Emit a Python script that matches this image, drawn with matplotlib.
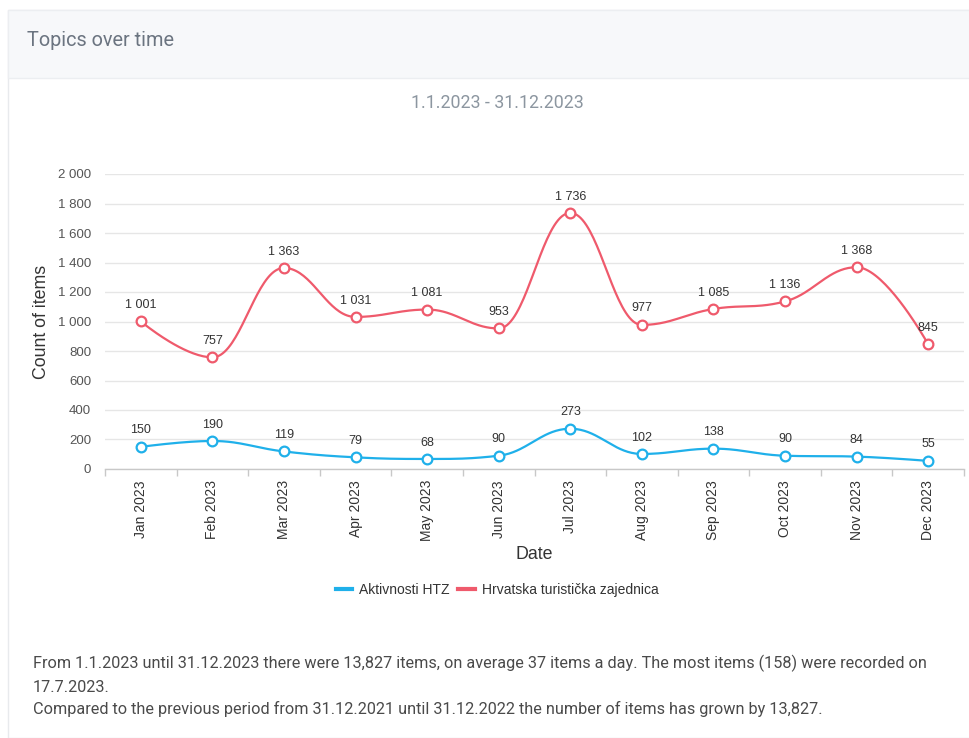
import numpy as np
import matplotlib.pyplot as plt
from matplotlib.patches import Rectangle
from matplotlib.lines import Line2D
from matplotlib.ticker import FuncFormatter, FixedLocator

# -----------------------------
# DATA
# -----------------------------
months = ["Jan 2023", "Feb 2023", "Mar 2023", "Apr 2023", "May 2023", "Jun 2023",
          "Jul 2023", "Aug 2023", "Sep 2023", "Oct 2023", "Nov 2023", "Dec 2023"]
aktivnosti = [150, 190, 119, 79, 68, 90, 273, 102, 138, 90, 84, 55]
hrvatska = [1001, 757, 1363, 1031, 1081, 953, 1736, 977, 1085, 1136, 1368, 845]
series_names = ["Aktivnosti HTZ", "Hrvatska turistička zajednica"]

BLUE = "#1fb0ea"
RED = "#ef5a6c"
TXT = "#333333"

plt.rcParams["font.family"] = ["Liberation Sans", "DejaVu Sans"]


def fmt_num(v):
    return f"{int(v):,}".replace(",", " ")


def spline(xs, ys, n=40):
    # highcharts-like spline (smoothing 1.5)
    xs = np.asarray(xs, float)
    ys = np.asarray(ys, float)
    k = len(xs)
    lcx, lcy = xs.copy(), ys.copy()
    rcx, rcy = xs.copy(), ys.copy()
    s = 1.5
    d = s + 1
    for i in range(1, k - 1):
        px, py = xs[i], ys[i]
        lx, ly = xs[i - 1], ys[i - 1]
        nx, ny = xs[i + 1], ys[i + 1]
        lcx_, lcy_ = (s * px + lx) / d, (s * py + ly) / d
        rcx_, rcy_ = (s * px + nx) / d, (s * py + ny) / d
        corr = (rcy_ - lcy_) * (rcx_ - px) / (rcx_ - lcx_) + py - rcy_
        lcy_ += corr
        rcy_ += corr
        if lcy_ > ly and lcy_ > py:
            lcy_ = max(ly, py)
            rcy_ = 2 * py - lcy_
        elif lcy_ < ly and lcy_ < py:
            lcy_ = min(ly, py)
            rcy_ = 2 * py - lcy_
        if rcy_ > ny and rcy_ > py:
            rcy_ = max(ny, py)
            lcy_ = 2 * py - rcy_
        elif rcy_ < ny and rcy_ < py:
            rcy_ = min(ny, py)
            lcy_ = 2 * py - rcy_
        lcx[i], lcy[i], rcx[i], rcy[i] = lcx_, lcy_, rcx_, rcy_
    t = np.linspace(0, 1, n)[:, None]
    out_x, out_y = [], []
    for i in range(k - 1):
        P = np.array([[xs[i], ys[i]], [rcx[i], rcy[i]], [lcx[i + 1], lcy[i + 1]], [xs[i + 1], ys[i + 1]]])
        B = ((1 - t) ** 3) * P[0] + 3 * ((1 - t) ** 2) * t * P[1] + 3 * (1 - t) * t ** 2 * P[2] + t ** 3 * P[3]
        out_x.extend(B[:, 0])
        out_y.extend(B[:, 1])
    return np.array(out_x), np.array(out_y)


fig = plt.figure(figsize=(9.69, 7.38), dpi=100)
W, H = 969, 738

# card background / header
fig.patches.append(Rectangle((8 / W, 0), 1, 1 - 10 / H, transform=fig.transFigure,
                             facecolor="white", edgecolor="#e8eaed", linewidth=1, zorder=-2))
fig.patches.append(Rectangle((8 / W, 1 - 78 / H), 1, 68 / H, transform=fig.transFigure,
                             facecolor="#f7f8fa", edgecolor="#eceef1", linewidth=1, zorder=-1))
fig.text(27 / W, 1 - 40 / H, "Topics over time", fontsize=14.3, color="#6b7480",
         va="center", ha="left", family=["Roboto", "DejaVu Sans"])
fig.text(497 / W, 1 - 103 / H, "1.1.2023 - 31.12.2023", fontsize=12.8, color="#8c96a0",
         va="center", ha="center", family=["Roboto", "DejaVu Sans"])

ax = fig.add_axes([105 / W, 1 - 469 / H, 859 / W, 295 / H])
x = np.arange(len(months))

for vals, col, name in [(aktivnosti, BLUE, series_names[0]), (hrvatska, RED, series_names[1])]:
    sx, sy = spline(x, vals)
    ax.plot(sx, sy, color=col, linewidth=1.6, zorder=3, label=name, clip_on=False)
    ax.plot(x, vals, linestyle="none", marker="o", markersize=7, markerfacecolor="white",
            markeredgecolor=col, markeredgewidth=1.6, zorder=4, clip_on=False)
    for xi, v in zip(x, vals):
        ax.annotate(fmt_num(v), (xi, v), xytext=(0, 7.5), textcoords="offset points",
                    ha="center", va="bottom", fontsize=9, color=TXT, zorder=5)

ax.set_xlim(-0.5, len(months) - 0.5)
ax.set_ylim(0, 2000)
ax.set_yticks(np.arange(0, 2001, 200))
ax.yaxis.set_major_formatter(FuncFormatter(lambda v, p: fmt_num(v)))
ax.set_xticks(x)
ax.set_xticklabels(months, rotation=90, fontsize=10, color=TXT)
ax.xaxis.set_minor_locator(FixedLocator(np.arange(-0.5, len(months), 1.0)))
ax.tick_params(axis="x", which="major", length=0, pad=8)
ax.tick_params(axis="x", which="minor", length=5, color="#c8c8c8", width=1)
ax.tick_params(axis="y", length=0, labelsize=9.5, labelcolor="#555555", pad=10)

ax.grid(axis="y", color="#e6e6e6", linewidth=1)
ax.set_axisbelow(True)
for sp in ["top", "right", "left"]:
    ax.spines[sp].set_visible(False)
ax.spines["bottom"].set_color("#c8c8c8")
ax.spines["bottom"].set_linewidth(1)

ax.set_ylabel("Count of items", fontsize=12.8, color=TXT, labelpad=6)
ax.set_xlabel("Date", fontsize=12.8, color=TXT, labelpad=3)

handles = [Line2D([0], [0], color=BLUE, linewidth=3), Line2D([0], [0], color=RED, linewidth=3)]
fig.legend(handles, series_names, loc="center", bbox_to_anchor=(497 / W, 1 - 590 / H),
           ncol=2, frameon=False, fontsize=10, handlelength=1.2, handletextpad=0.5,
           columnspacing=0.6, labelcolor=TXT)

footer = [
    (663, "From 1.1.2023 until 31.12.2023 there were 13,827 items, on average 37 items a day. The most items (158) were recorded on"),
    (687, "17.7.2023."),
    (709, "Compared to the previous period from 31.12.2021 until 31.12.2022 the number of items has grown by 13,827."),
]
for yy, line in footer:
    fig.text(33 / W, 1 - yy / H, line, fontsize=11.7, color="#4a4a4a", va="center", ha="left",
             family=["Roboto", "DejaVu Sans"])

fig.savefig("out.png", dpi=100)
